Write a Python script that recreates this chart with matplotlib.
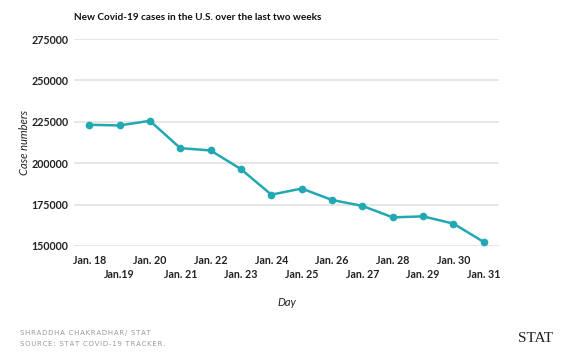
import matplotlib.pyplot as plt

days = ["Jan. 18", "Jan.19", "Jan. 20", "Jan. 21", "Jan. 22", "Jan. 23", "Jan. 24",
        "Jan. 25", "Jan. 26", "Jan. 27", "Jan. 28", "Jan. 29", "Jan. 30", "Jan. 31"]
cases = [223200, 222800, 225600, 209100, 207700, 196400, 181000,
         184700, 177800, 174200, 167300, 167900, 163500, 152400]
yticks = [150000, 175000, 200000, 225000, 250000, 275000]

plt.rcParams['font.family'] = ['Lato', 'DejaVu Sans']

fig = plt.figure(figsize=(5.7, 3.63), dpi=100)
ax = fig.add_axes([74/570, 1-246/363, (499-74)/570, (246-39)/363])

x = list(range(len(days)))
ax.plot(x, cases, color='#22a8b3', lw=1.8, marker='o', ms=4.5, zorder=3)

ax.set_xlim(-0.5, len(days)-0.5)
ax.set_ylim(150000, 275000)
ax.set_yticks(yticks)
ax.set_yticklabels([str(v) for v in yticks], fontsize=7.7, fontweight='bold', color='#222222')

# two rows of day labels: even days on top, odd days below
ax.set_xticks(x[0::2])
ax.set_xticklabels(days[0::2], fontsize=7.7, fontweight='bold', color='#222222')
ax.set_xticks(x[1::2], minor=True)
ax.set_xticklabels(days[1::2], minor=True, fontsize=7.7, fontweight='bold', color='#222222')
ax.tick_params(axis='both', which='both', length=0)
ax.tick_params(axis='x', which='major', pad=6.5)
ax.tick_params(axis='x', which='minor', pad=16.5)
ax.tick_params(axis='y', pad=4)
ax.grid(axis='y', color='#e3e3e3', lw=1.2)
ax.set_axisbelow(True)
for s in ax.spines.values():
    s.set_visible(False)

ax.set_ylabel("Case numbers", fontsize=8, style='italic', color='#222222', labelpad=1)
ax.set_xlabel("Day", fontsize=8, style='italic', color='#222222', labelpad=12)

fig.text(74/570, 1-18/363, "New Covid-19 cases in the U.S. over the last two weeks",
         fontsize=7.2, fontweight='bold', color='#111111', va='center')

hair = '\u200a'
fig.text(20/570, 1-333/363, hair.join("SHRADDHA CHAKRADHAR/ STAT"), fontsize=5, color='#9a9a9a',
         va='center', family=['DejaVu Sans'])
fig.text(20/570, 1-344/363, hair.join("SOURCE: STAT COVID-19 TRACKER."), fontsize=5, color='#9a9a9a',
         va='center', family=['DejaVu Sans'])
fig.text(553/570, 1-339/363, "STAT", fontsize=11, family=['Liberation Serif', 'DejaVu Serif'],
         color='#222222', ha='right', va='center')

plt.savefig("out.png", dpi=100)
